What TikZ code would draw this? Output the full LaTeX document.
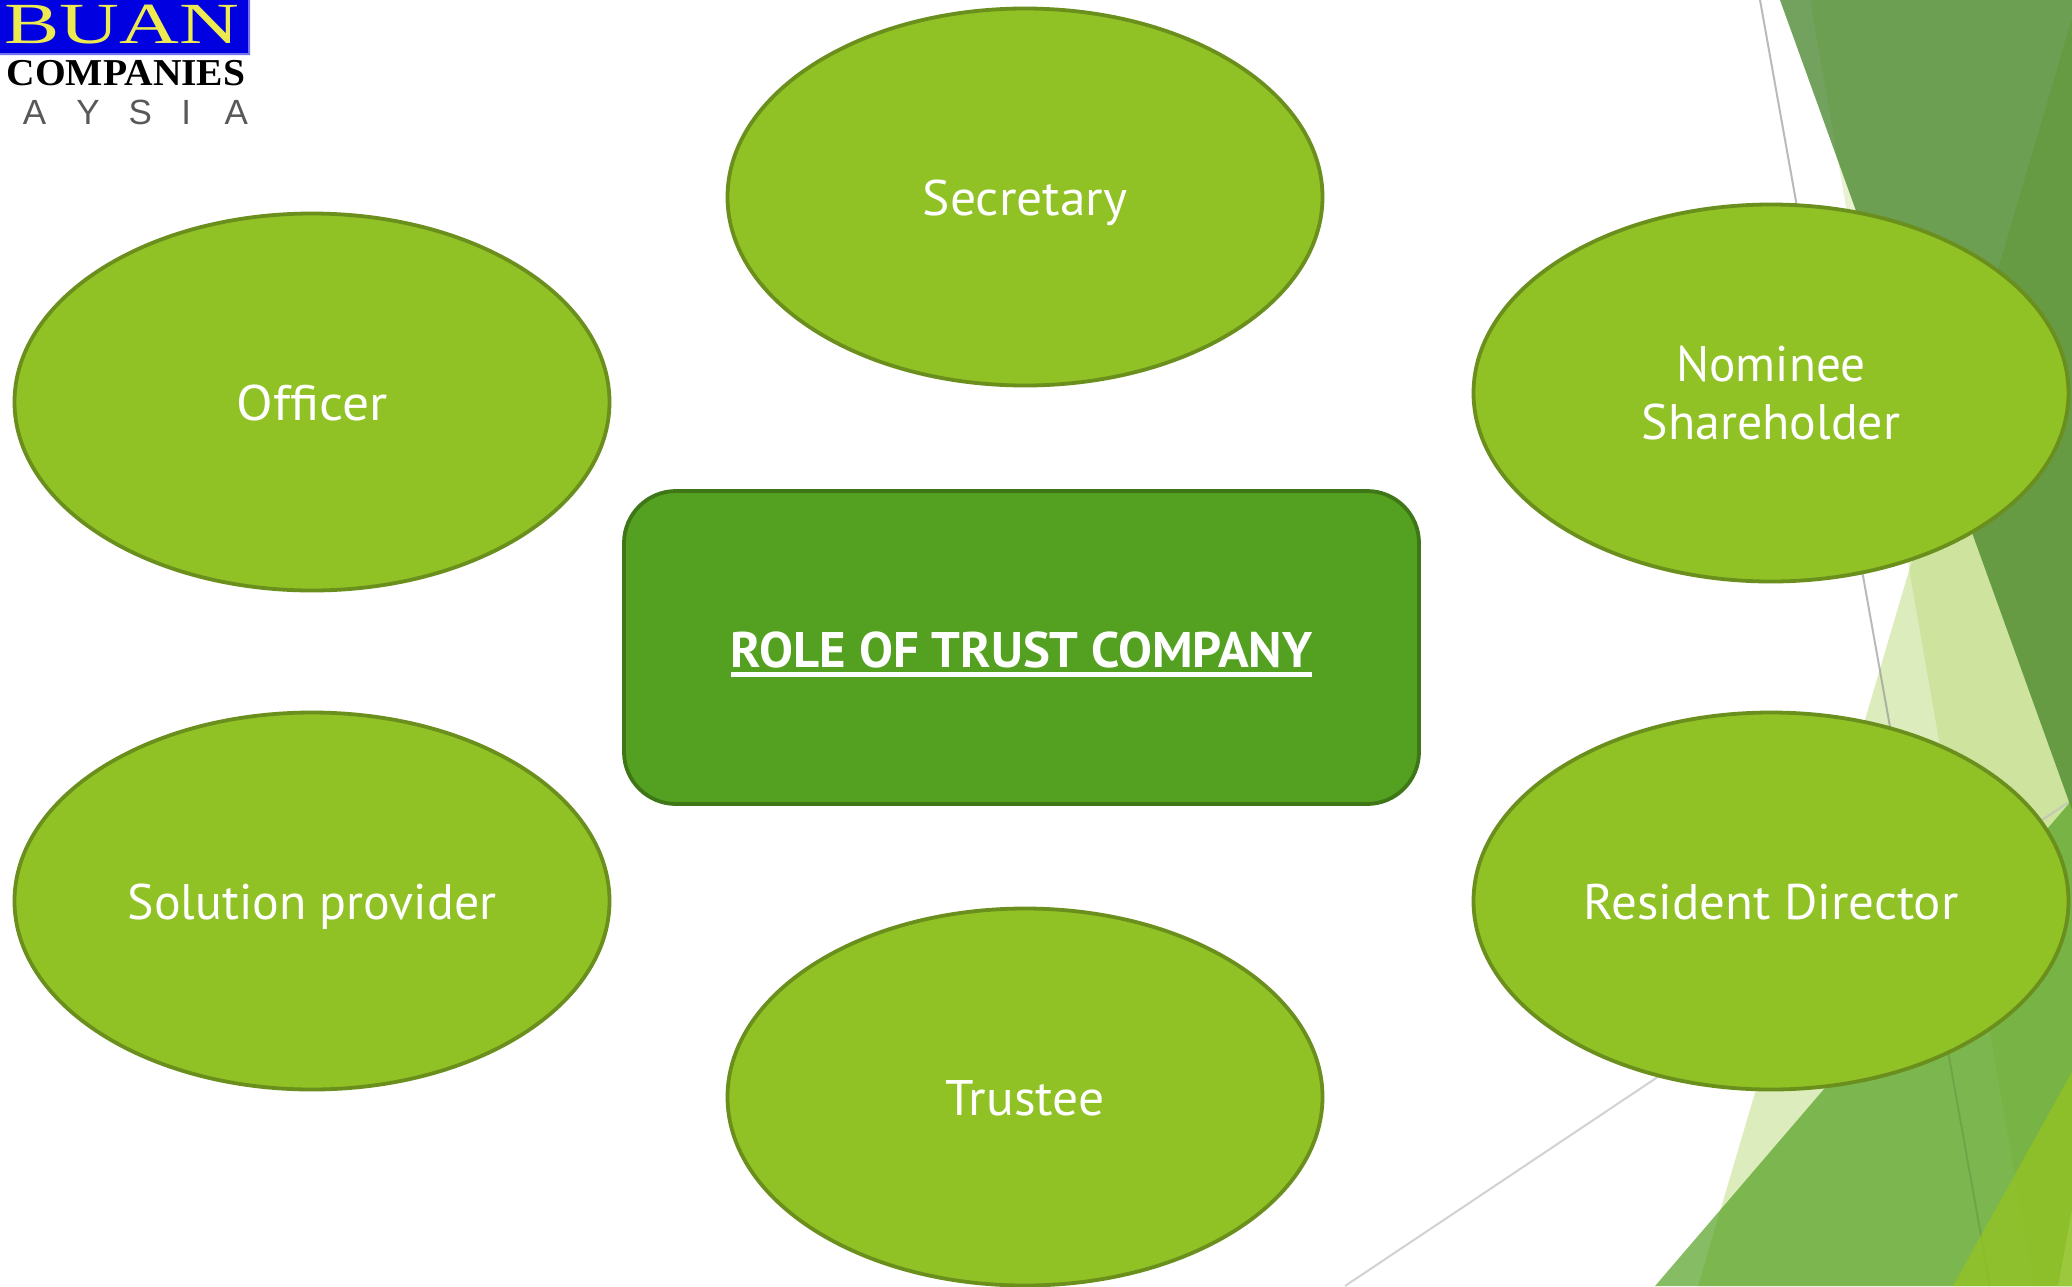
\documentclass[tikz,border=0pt]{standalone}
\usepackage{graphicx}
\usepackage{fontspec}
\setmainfont{PT Sans}
\newfontfamily\logofont{Liberation Serif}
\newfontfamily\logosans{Liberation Sans}
\usetikzlibrary{shapes.geometric}
\definecolor{leaf}{HTML}{90C226}
\definecolor{leafline}{HTML}{6A8F1C}
\definecolor{core}{HTML}{54A021}
\definecolor{coreline}{HTML}{3E7618}
\definecolor{deep}{HTML}{448427}
\definecolor{logoblue}{HTML}{0000E0}
\definecolor{logoyellow}{HTML}{EDEA50}
\tikzset{
  oval/.style={ellipse,draw=leafline,fill=leaf,line width=1.9pt,minimum width=297.5pt,minimum height=188.5pt,inner sep=0pt,text=white,font=\fontsize{25}{29}\selectfont,align=center},
  oneline/.style={text height=18.6pt,text depth=0pt},
  hub/.style={rectangle,rounded corners=26pt,draw=coreline,fill=core,line width=1.9pt,minimum width=397.5pt,minimum height=156.5pt,inner sep=0pt,text=white,font=\fontsize{25}{29}\selectfont\bfseries},
  logotxt/.style={inner sep=0pt,anchor=center},
}
\newcommand{\squeeze}[2]{\scalebox{#1}[1]{#2}}
\begin{document}
\begin{tikzpicture}[x=0.5pt,y=-0.5pt]
\useasboundingbox (0,0) rectangle (2072,1286);
\fill[white] (0,0) rectangle (2072,1286);
% background facets
\fill[leaf,opacity=.3] (2072,18) -- (2072,1286) -- (1698,1286) -- cycle;
\fill[leaf,opacity=.2] (1810,0) -- (2072,0) -- (2072,1286) -- (2034,1286) -- cycle;
\draw[black!45,opacity=.6,line width=1pt] (1760,0) -- (1990,1286);
\draw[black!25,opacity=.7,line width=1pt] (1345,1286) -- (2072,800);
\fill[deep,opacity=.75] (1780,0) -- (2072,0) -- (2072,810) -- cycle;
\fill[core,opacity=.7] (1655,1286) -- (2072,800) -- (2072,1286) -- cycle;
\fill[leaf,opacity=.85] (1953,1286) -- (2072,1072) -- (2072,1286) -- cycle;
\fill[leaf!90!white] (2072,1210) -- (2072,1286) -- (2058,1286) -- cycle;
% logo
\fill[logoblue] (0,0) rectangle (248,53);
\fill[logoblue!55!white] (248,0) rectangle (250,55) (0,53) rectangle (250,55);
\node[logotxt,text=logoyellow] (logoa) at (122,25) {\scalebox{1.48}[1.04]{\logofont\fontsize{28}{28}\selectfont BUAN}};
\node[logotxt,text=black] (logob) at (126,73) {\scalebox{1.04}[1]{\logofont\bfseries\fontsize{19}{19}\selectfont COMPANIES}};
\node[logotxt,text=black!65] (logoc) at (135.5,112) {\logosans\fontsize{17.5}{17.5}\selectfont A\hspace{15pt}Y\hspace{14.5pt}S\hspace{14.75pt}I\hspace{16.75pt}A};
% nodes
\node[oval,oneline] (sec) at (1025,197) {\squeeze{1.03}{Secretary}};
\node[oval,oneline] (off) at (312,402) {\squeeze{1.07}{Officer}};
\node[oval] (nom) at (1771,393) {\squeeze{.985}{Nominee}\\\squeeze{.996}{Shareholder}};
\node[oval,oneline] (sol) at (312,901) {\squeeze{.997}{Solution provider}};
\node[oval,oneline] (res) at (1771,901) {\squeeze{1.02}{Resident Director}};
\node[oval,oneline] (tru) at (1025,1097) {\squeeze{1.03}{Trustee}};
\node[hub] (hubn) at (1021.5,647.5) {\raisebox{-3.3pt}[\height][\depth]{\vtop{\hbox{\squeeze{1.015}{ROLE OF TRUST COMPANY}}\kern2pt\hrule height 2.5pt}}};
\end{tikzpicture}
\end{document}
